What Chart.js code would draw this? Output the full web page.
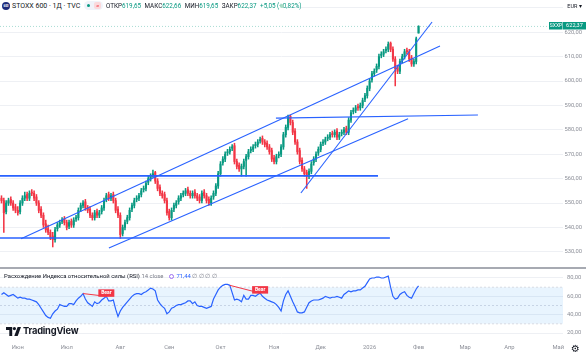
<!DOCTYPE html>
<html>
<head>
<meta charset="utf-8">
<script src="https://cdn.jsdelivr.net/npm/chart.js@4.4.1/dist/chart.umd.min.js"></script>
<style>
  html, body { margin: 0; padding: 0; background: #fff; }
  body { width: 586px; height: 352px; position: relative; overflow: hidden; font-family: Roboto, "Liberation Sans", sans-serif; color: #131722; }
  #main-wrap { position: absolute; left: 0; top: 0; width: 586px; height: 266px; }
  #rsi-wrap { position: absolute; left: 0; top: 270px; width: 586px; height: 82px; }
  .sep { position: absolute; left: 0; top: 267px; width: 586px; height: 2px; background: #a7aab2; }
  #legend { position: absolute; left: 0; top: 0; height: 13px; width: 284px; background: #fff; white-space: nowrap; }
  #legend .logo { position: absolute; left: 2px; top: 2px; width: 8px; height: 8px; border-radius: 50%; background: #1e2b7a; color: #fff; font-size: 3px; line-height: 8px; text-align: center; font-weight: bold; }
  #legend .sym { position: absolute; left: 12px; top: 1px; font-size: 7px; line-height: 10px; }
  #legend .badge { position: absolute; left: 84px; top: 1px; width: 19px; height: 9px; border-radius: 5px; background: #f0f3fa; }
  #legend .badge .g { position: absolute; left: 3px; top: 3px; width: 3px; height: 3px; border-radius: 50%; background: #089981; }
  #legend .badge .r { position: absolute; left: 10px; top: 1px; width: 7px; height: 7px; border-radius: 2px; background: #fbd9dc; color: #f23645; font-size: 6px; line-height: 7px; text-align: center; }
  #legend .ohlc { position: absolute; left: 106px; top: 2px; font-size: 6.3px; line-height: 8px; }
  #legend .ohlc b { font-weight: normal; color: #089981; margin-right: 2px; }
  #legend .dotlive { position: absolute; left: 280px; top: 4px; width: 4px; height: 4px; border-radius: 50%; background: #a8dcc6; }
  #cur { position: absolute; left: 563px; top: 0; width: 23px; height: 13px; background: #fff; font-size: 5.5px; line-height: 13px; color: #131722; text-align: center; }
  #rsi-title { position: absolute; left: 4px; top: 272px; font-size: 5.9px; line-height: 8px; white-space: nowrap; }
  #rsi-title .muted { color: #787b86; }
  #rsi-title .ico { display: inline-block; width: 5px; height: 5px; border: 1.3px solid #9c6ef0; border-radius: 50%; vertical-align: -1px; margin: 0 3px 0 5px; box-sizing: border-box; }
  #rsi-title .val { color: #2962ff; }
  #tv { position: absolute; left: 6px; top: 325px; height: 12px; white-space: nowrap; }
  #tv svg { position: absolute; left: 0; top: 2px; }
  #tv span { position: absolute; left: 17px; top: 0; font-family: Inter, Roboto, sans-serif; font-weight: 700; font-size: 9.3px; line-height: 12px; letter-spacing: -0.2px; color: #131722; }
  #gear { position: absolute; left: 571px; top: 343px; font-size: 10px; line-height: 11px; color: #131722; font-family: "DejaVu Sans", sans-serif; }
</style>
</head>
<body>
<div id="main-wrap"><canvas id="main"></canvas></div>
<div class="sep"></div>
<div id="rsi-wrap"><canvas id="rsi"></canvas></div>

<div id="legend">
  <span class="logo">600</span>
  <span class="sym">STOXX 600 · 1Д · TVC</span>
  <span class="badge"><i class="g"></i><i class="r">=</i></span>
  <span class="ohlc" id="ohlc"></span>
  <i class="dotlive"></i>
</div>
<div id="cur">EUR ▾</div>
<div id="rsi-title">Расхождение Индекса относительной силы (RSI) <span class="muted">14 close</span><i class="ico"></i><span class="val" id="rsi-val"></span> <span class="muted">∅ ∅ ∅ ∅</span></div>
<div id="tv">
  <svg width="15" height="9" viewBox="0 0 15 9"><path d="M0 0H6.2V9H3.3V3H0Z" fill="#131722"/><circle cx="8.4" cy="1.6" r="1.6" fill="#131722"/><path d="M8.3 9L11.6 0H15L11.7 9Z" fill="#131722"/></svg>
  <span>TradingView</span>
</div>
<div id="gear">⚙</div>

<script>
// daily candles, 22 May 2025 .. 2 Feb 2026 (index = trading day)
const opens = [
  552, 551, 546.5, 550, 551.5, 550, 548.5, 547, 546.5, 550,
  552, 553.5, 552, 554.5, 554, 552.5, 550, 547.5, 545, 541.5,
  539.5, 538, 536.5, 535, 539.5, 541, 542.5, 543.5, 542, 540.5,
  542.5, 541, 543.5, 544, 547.5, 549, 550.5, 548, 547.5, 545,
  544, 546.5, 545, 546.5, 548, 551.5, 553.5, 552, 553.5, 551,
  547.5, 545, 537.5, 540, 542.5, 544, 547.5, 549, 551.5, 552,
  553.5, 555.5, 556, 558.5, 560, 561.5, 562.5, 559, 556.5, 554,
  553.5, 551, 546.5, 544, 547.5, 549, 550.5, 552, 553.5, 554,
  555.5, 554, 553, 554.5, 553, 552.5, 551, 554.5, 553, 551.5,
  550, 552.5, 554, 557, 562, 566.5, 568, 570.5, 571, 572.5,
  573.5, 567, 565.5, 564, 565, 567.5, 569, 571.5, 572, 573.5,
  574, 575.5, 576.5, 575, 574.5, 573, 571.5, 568.5, 567, 569.5,
  570, 573, 578, 581, 585.5, 583, 579.5, 575, 571.5, 567.5,
  564, 562.5, 561, 563, 566.5, 568, 570.5, 572, 574.5, 575,
  576.5, 577, 578.5, 578, 579.5, 577, 578.5, 579, 580.5, 579,
  584, 587.5, 588, 589.5, 589, 590, 592.5, 594, 597, 600.5,
  603, 604.5, 606, 610.5, 611, 612.5, 613, 615.5, 613, 609,
  605.5, 604, 608.5, 610, 612.5, 612, 609.5, 607, 608, 619.65
];
const highs = [
  553, 552, 551, 552, 552.5, 551, 549.5, 548.5, 551, 553,
  554.5, 554.5, 555, 555.5, 555, 553.5, 551, 548.5, 546, 543,
  541, 539, 538, 540, 542, 543, 544, 544.5, 543, 543,
  543.5, 544, 545, 548, 550, 551, 551.5, 549, 548.5, 546,
  547, 547.5, 547, 549, 552, 554, 554.5, 554, 554.5, 552,
  548.5, 546, 541, 543, 545, 548, 550, 552, 553, 554,
  556, 557, 559, 561, 562, 563.5, 563, 560, 557.5, 555,
  554.5, 552, 547.5, 548, 550, 551, 553, 554, 555, 556,
  556.5, 555, 555, 555.5, 554, 553.5, 555, 555.5, 554, 552.5,
  553, 555, 558, 563, 567, 569, 571, 572, 573, 574,
  574.5, 568, 566.5, 566, 568, 570, 572, 573, 574, 575,
  576, 577, 577.5, 576, 575.5, 574, 572.5, 569.5, 570, 571,
  574, 579, 582, 586, 586, 584, 580.5, 576, 572.5, 568.5,
  565, 563.5, 564, 567, 569, 571, 573, 575, 576, 577,
  578, 579, 579.5, 580, 580.5, 579, 580, 581, 581.5, 585,
  588, 589, 590, 590.5, 591, 593, 595, 598, 601, 604,
  605, 607, 611, 612, 613, 614, 616, 616, 614, 610,
  606.5, 609, 611, 613, 613.5, 613, 610.5, 609, 618, 622.66
];
const lows = [
  550, 538, 545.5, 549, 549, 547, 546, 545, 545.5, 549,
  551, 551, 551, 553, 551, 549, 546, 544, 540, 538,
  537, 535, 532, 534, 538.5, 540, 541.5, 541, 539, 539.5,
  540, 540, 542.5, 543, 546.5, 548, 547, 546, 544, 543,
  543, 544, 544, 545.5, 547, 550.5, 551, 551, 550, 546,
  544, 535.5, 536.5, 539, 541.5, 543, 546.5, 548, 550.5, 551,
  552.5, 554.5, 555, 557.5, 559, 560.5, 558, 555, 553, 552,
  550, 545, 543, 543, 546.5, 548, 549.5, 551, 552.5, 553,
  553, 552, 552, 552, 551, 550, 550, 552, 550, 549,
  549, 551.5, 553, 556, 561, 565.5, 567, 569.5, 570, 571.5,
  566, 564, 563, 561, 564, 561, 568, 570.5, 571, 572.5,
  573, 574.5, 574, 573, 572, 570, 567, 566, 566, 568.5,
  569, 572, 577, 580, 582, 578, 574, 570, 566, 563,
  561, 556, 560, 562, 565.5, 567, 569.5, 571, 573.5, 574,
  575.5, 576, 577, 577, 576, 576, 577.5, 578, 578, 578,
  583, 586.5, 587, 588, 588, 589, 591.5, 593, 596, 599.5,
  602, 603.5, 605, 609.5, 610, 611.5, 612, 612, 608, 598,
  603, 603, 607.5, 609, 611, 608, 606, 606, 607, 619.65
];
const closes = [
  551, 546, 550, 551, 550, 548, 547, 546, 550, 552,
  553, 552, 554, 554, 552, 550, 547, 545, 541, 539,
  538, 536, 535, 539, 541, 542, 543, 542, 540, 542,
  541, 543, 544, 547, 549, 550, 548, 547, 545, 544,
  546, 545, 546, 548, 551, 553, 552, 553, 551, 547,
  545, 537, 540, 542, 544, 547, 549, 551, 552, 553,
  555, 556, 558, 560, 561, 562, 559, 556, 554, 553,
  551, 546, 544, 547, 549, 550, 552, 553, 554, 555,
  554, 553, 554, 553, 552, 551, 554, 553, 551, 550,
  552, 554, 557, 562, 566, 568, 570, 571, 572, 573,
  567, 565, 564, 565, 567, 569, 571, 572, 573, 574,
  575, 576, 575, 574, 573, 571, 568, 567, 569, 570,
  573, 578, 581, 585, 583, 579, 575, 571, 567, 564,
  562, 561, 563, 566, 568, 570, 572, 574, 575, 576,
  577, 578, 578, 579, 577, 578, 579, 580, 579, 584,
  587, 588, 589, 589, 590, 592, 594, 597, 600, 603,
  604, 606, 610, 611, 612, 613, 615, 613, 609, 605,
  604, 608, 610, 612, 612, 609, 607, 608, 617.32, 622.37
];
// RSI(14) per candle
const rsi = [
  62, 64, 62, 60, 61, 62, 60, 58, 59, 58,
  58, 57, 57, 56, 55, 54, 51, 47, 43, 39,
  37, 36, 41, 44, 46, 51, 50, 49, 49, 52,
  52, 51, 55, 58, 60, 63, 57, 53, 51, 49,
  54, 52, 53, 56, 58, 60, 55, 55, 56, 46,
  38, 44, 48, 51, 54, 57, 60, 62, 63, 63,
  62, 64, 65, 67, 69, 68, 66, 56, 52, 49,
  47, 41, 43, 47, 48, 50, 51, 51, 52, 53,
  55, 55, 52, 54, 50, 49, 49, 48, 47, 48,
  49, 57, 62, 67, 70, 72, 73, 73, 72, 64,
  56, 57, 56, 54, 61, 57, 57, 61, 61, 60,
  62, 63.5, 60, 58, 56, 55, 54, 53, 51, 48,
  44, 55, 62, 66, 60, 54, 49, 43, 42, 42,
  43, 48, 53, 55, 56, 56, 56, 57, 58, 60,
  59, 58, 59, 59, 60, 59, 58, 62, 64, 66,
  65, 66, 66, 67, 67, 69, 71, 75, 79, 80,
  80, 81, 81, 80, 80, 81, 82, 70, 60, 57,
  58, 62, 64, 65, 61, 59, 58, 63, 68, 71.44
];
const changeAbs = 5.05;
const changePct = 0.82;

// bearish divergences (candle indices on the RSI line)
const bearFrom = [35, 98];
const bearTo = [45, 111];

// drawn trend lines: [x1 index, y1 price, x2 index, y2 price]
const channelUpper = [8.4, 535.4, 188.2, 614.4];
const channelLower = [46.1, 531.6, 174.5, 584.5];
const steepLine = [128.5, 554.1, 184.8, 624.2];
const levelHigh = [117.8, 584.8, 204.5, 586.1];
const levelMid = [-0.64, 561.1, 161.6, 561.1];
const levelLow = [-0.64, 535.7, 166.7, 535.7];

// axes
const monthTickIdx = [7, 28, 51, 72, 94, 117, 137, 158, 179, 199, 218, 239];
const monthLabels = ['Июн', 'Июл', 'Авг', 'Сен', 'Окт', 'Ноя', 'Дек', '2026', 'Фев', 'Мар', 'Апр', 'Май'];
const priceTicks = [530, 540, 550, 560, 570, 580, 590, 600, 610, 620, 630];
const rsiTicks = [20, 40, 60, 80];
const X_MIN = -0.64, X_MAX = 241;

const UP = '#089981';
const DOWN = '#f23645';
const BLUE = '#2962ff';
const GRID = '#eef0f4';
const AXIS_TEXT = '#8c8f98';

const fmt = v => v.toFixed(2).replace('.', ',');

// legend text
const n = closes.length - 1;
document.getElementById('ohlc').innerHTML =
  'ОТКР<b>' + fmt(opens[n]) + '</b> МАКС<b>' + fmt(highs[n]) + '</b> МИН<b>' + fmt(lows[n]) +
  '</b> ЗАКР<b>' + fmt(closes[n]) + '</b> <b>+' + fmt(changeAbs) + ' (+' + fmt(changePct) + '%)</b>';
document.getElementById('rsi-val').textContent = fmt(rsi[n]);

// keep the plot area flush with the canvas edges
const noPad = s => { s.paddingTop = 0; s.paddingBottom = 0; s.paddingLeft = 0; s.paddingRight = 0; };

const candleColor = ctx => closes[ctx.dataIndex] >= opens[ctx.dataIndex] ? UP : DOWN;
const seg = (a, extra) => Object.assign({
  type: 'line',
  data: [{x: a[0], y: a[1]}, {x: a[2], y: a[3]}],
  borderColor: BLUE,
  borderWidth: 1.1,
  pointRadius: 0,
  order: 0
}, extra || {});

const lastPriceTag = {
  id: 'lastPriceTag',
  afterDraw(chart) {
    const {ctx, scales: {y}} = chart;
    const py = Math.round(y.getPixelForValue(closes[n]));
    ctx.save();
    ctx.fillStyle = UP;
    ctx.fillRect(y.left - 14, py - 4, 13.5, 7.5);
    ctx.fillRect(y.left, py - 4, chart.width - y.left, 7.5);
    ctx.fillStyle = '#fff';
    ctx.font = '5px Roboto';
    ctx.textAlign = 'center';
    ctx.textBaseline = 'middle';
    ctx.fillText('SXXP', y.left - 7, py);
    ctx.font = '5.6px Roboto';
    ctx.fillText(fmt(closes[n]), (y.left + chart.width) / 2, py);
    ctx.restore();
  }
};

new Chart(document.getElementById('main'), {
  type: 'bar',
  data: {
    datasets: [
      {
        data: lows.map((l, i) => ({x: i, y: [l, highs[i]]})),
        backgroundColor: candleColor,
        barThickness: 0.9,
        grouped: false,
        order: 3
      },
      {
        data: opens.map((o, i) => ({x: i, y: [o, closes[i]]})),
        backgroundColor: candleColor,
        barThickness: 1.4,
        minBarLength: 1,
        grouped: false,
        order: 2
      },
      seg([X_MIN, closes[n], X_MAX, closes[n]], {borderColor: 'rgba(8,153,129,0.35)', borderWidth: 1, borderDash: [1, 2], order: 4}),
      seg(channelUpper),
      seg(channelLower),
      seg(steepLine),
      seg(levelHigh),
      seg(levelMid, {borderWidth: 1.8}),
      seg(levelLow, {borderWidth: 1.4})
    ]
  },
  options: {
    responsive: true,
    maintainAspectRatio: false,
    animation: false,
    layout: {padding: 0},
    plugins: {legend: {display: false}, tooltip: {enabled: false}},
    scales: {
      x: {
        type: 'linear', min: X_MIN, max: X_MAX, offset: false,
        display: false
      },
      y: {
        position: 'right', min: 524.2, max: 633.2,
        afterFit: s => { s.width = 23; noPad(s); },
        afterBuildTicks: s => { s.ticks = priceTicks.map(v => ({value: v})); },
        ticks: {callback: v => fmt(v), color: AXIS_TEXT, font: {family: 'Roboto', size: 5.8}, padding: 1.5},
        grid: {color: GRID, drawTicks: false},
        border: {display: false}
      }
    }
  },
  plugins: [lastPriceTag]
});

const bearTags = {
  id: 'bearTags',
  afterDatasetsDraw(chart) {
    const {ctx, scales: {x, y}} = chart;
    ctx.save();
    bearTo.forEach(i => {
      const px = x.getPixelForValue(i);
      const py = y.getPixelForValue(rsi[i]);
      ctx.fillStyle = DOWN;
      ctx.fillRect(px - 8, py - 7, 16, 7.5);
      ctx.fillStyle = '#fff';
      ctx.font = 'bold 5px Roboto';
      ctx.textAlign = 'center';
      ctx.textBaseline = 'middle';
      ctx.fillText('Bear', px, py - 3.2);
    });
    ctx.restore();
  }
};

const flat = (v, extra) => Object.assign({
  data: [{x: X_MIN, y: v}, {x: X_MAX, y: v}],
  borderColor: '#d1d4dc',
  borderWidth: 0.8,
  borderDash: [2, 2],
  pointRadius: 0,
  fill: false,
  order: 5
}, extra || {});

new Chart(document.getElementById('rsi'), {
  type: 'line',
  data: {
    datasets: [
      flat(70),
      flat(30, {fill: '-1', backgroundColor: 'rgba(33,150,243,0.1)'}),
      flat(50),
      {
        data: rsi.map((v, i) => ({x: i, y: v})),
        borderColor: BLUE,
        borderWidth: 1.2,
        pointRadius: 0,
        fill: false,
        order: 1
      },
      ...bearFrom.map((a, k) => ({
        data: [{x: a, y: rsi[a]}, {x: bearTo[k], y: rsi[bearTo[k]]}],
        borderColor: DOWN,
        borderWidth: 1,
        pointRadius: 0,
        fill: false,
        order: 0
      }))
    ]
  },
  options: {
    responsive: true,
    maintainAspectRatio: false,
    animation: false,
    layout: {padding: 0},
    plugins: {legend: {display: false}, tooltip: {enabled: false}},
    scales: {
      x: {
        type: 'linear', min: X_MIN, max: X_MAX,
        afterFit: s => { s.height = 12; noPad(s); },
        afterBuildTicks: s => { s.ticks = monthTickIdx.map(v => ({value: v})); },
        ticks: {
          autoSkip: false, maxRotation: 0, padding: 4.5,
          callback: v => monthLabels[monthTickIdx.indexOf(v)],
          color: AXIS_TEXT, font: {family: 'Roboto', size: 5.8}
        },
        grid: {display: false, drawTicks: false},
        border: {display: false}
      },
      y: {
        position: 'right', min: 12.4, max: 88.7,
        afterFit: s => { s.width = 23; noPad(s); },
        afterBuildTicks: s => { s.ticks = rsiTicks.map(v => ({value: v})); },
        ticks: {callback: v => fmt(v), color: AXIS_TEXT, font: {family: 'Roboto', size: 5.8}, padding: 4},
        grid: {color: GRID, drawTicks: false},
        border: {display: false}
      }
    }
  },
  plugins: [bearTags]
});
</script>
</body>
</html>
